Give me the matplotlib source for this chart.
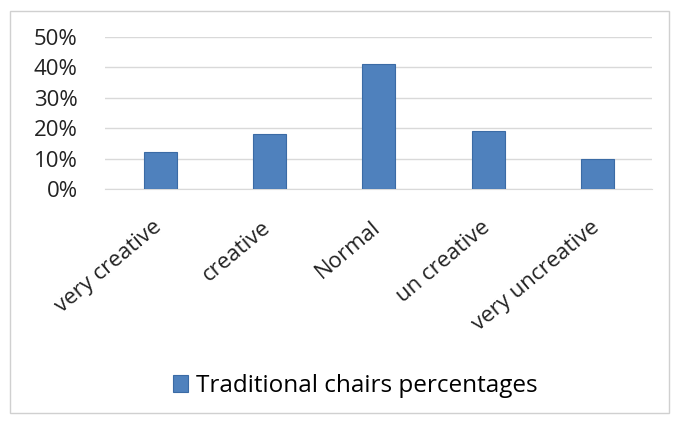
import matplotlib
matplotlib.use("Agg")
import matplotlib.pyplot as plt
from matplotlib.patches import Rectangle
from matplotlib.ticker import PercentFormatter
from matplotlib.transforms import ScaledTranslation

categories = ["very creative", "creative", "Normal", "un creative", "very uncreative"]
values = [0.12, 0.18, 0.41, 0.19, 0.10]
series_name = "Traditional chairs percentages"
yticks = [0, 0.1, 0.2, 0.3, 0.4, 0.5]

plt.rcParams['font.family'] = ['Open Sans', 'DejaVu Sans']

fig = plt.figure(figsize=(6.76, 4.21), dpi=100)
ax = fig.add_axes([0.156, 0.551, 0.809, 0.362])

x = range(len(categories))
ax.bar(x, values, width=0.3, color="#4F81BD", edgecolor="#3B6BA5", linewidth=0.8,
       label=series_name, zorder=3)
ax.set_xlim(-0.5, len(categories) - 0.5)
ax.set_ylim(0, 0.5)
ax.set_yticks(yticks)
ax.yaxis.set_major_formatter(PercentFormatter(1.0, decimals=0))
ax.grid(axis="y", color="#D9D9D9", linewidth=1, zorder=0)
for s in ["left", "right", "top"]:
    ax.spines[s].set_visible(False)
ax.spines["bottom"].set_color("#D9D9D9")
ax.tick_params(axis="both", length=0, colors="#222222")
ax.tick_params(axis="y", pad=20, labelsize=16)
ax.set_xticks(list(x))
ax.set_xticklabels(categories, rotation=40, ha="right", rotation_mode="anchor", fontsize=16)
ax.tick_params(axis="x", pad=20)
shift = ScaledTranslation(-8 / 100, 0, fig.dpi_scale_trans)
for lbl in ax.get_xticklabels():
    lbl.set_transform(lbl.get_transform() + shift)

fig.legend(loc="center", bbox_to_anchor=(0.525, 0.083), frameon=False, fontsize=17.5,
           handlelength=0.65, handleheight=0.65, handletextpad=0.3)

fig.patches.append(Rectangle((0.015, 0.02), 0.975, 0.955, transform=fig.transFigure,
                             fill=False, edgecolor="#D0D0D0", linewidth=1))

fig.savefig("out.png", dpi=100)
